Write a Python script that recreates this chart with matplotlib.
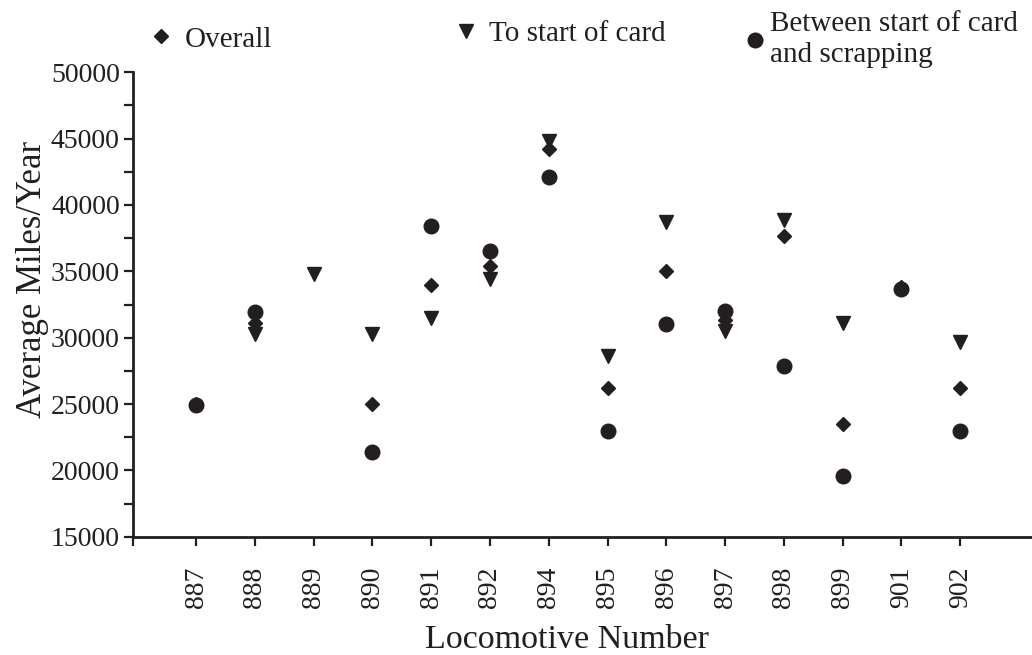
import numpy as np
import matplotlib.pyplot as plt

plt.rcParams['font.family'] = ['Liberation Serif', 'DejaVu Serif']

# locomotive numbers (categorical x axis)
locos = ['887', '888', '889', '890', '891', '892', '894', '895',
         '896', '897', '898', '899', '901', '902']
nan = np.nan
# average miles per year
overall = [25000, 31100, nan, 25000, 34000, 35400, 44200, 26200,
           35000, 31300, 37700, 23500, 33800, 26200]
to_card = [nan, 30300, 34800, 30300, 31500, 34400, 44800, 28600,
           38700, 30500, 38900, 31100, nan, 29700]
card_to_scrap = [24900, 31900, nan, 21400, 38400, 36500, 42100, 23000,
                 31000, 32000, 27900, 19600, 33700, 23000]

ink = '#231f20'
xpos = np.arange(len(locos))

fig = plt.figure(figsize=(10.32, 6.55), dpi=100)
ax = fig.add_axes([0.1289, 0.1806, 0.8711, 0.709])

h1, = ax.plot(xpos, overall, 'D', ms=7.2, color=ink, ls='none', label='Overall')
h2, = ax.plot(xpos, to_card, 'v', ms=10.5, color=ink, ls='none', label='To start of card')
h3, = ax.plot(xpos, card_to_scrap, 'o', ms=10.5, color=ink, ls='none',
              label='Between start of card\nand scrapping')

ax.set_ylim(15000, 50000)
ax.set_xlim(-1.072, 14.22)
ax.set_yticks(np.arange(15000, 50001, 5000))
ax.set_yticks(np.arange(17500, 50000, 5000), minor=True)
ax.set_xticks(xpos)
ax.set_xticklabels(locos, rotation=90)
ax.set_xticks([-1.072], minor=True)

for s in ['top', 'right']:
    ax.spines[s].set_visible(False)
for s in ['left', 'bottom']:
    ax.spines[s].set_linewidth(2.0)
    ax.spines[s].set_color(ink)

ax.tick_params(axis='both', which='both', direction='out', length=6.5,
               width=1.6, color=ink, labelcolor=ink, labelsize=20)
ax.tick_params(axis='x', which='both', pad=15)
ax.tick_params(axis='y', which='both', pad=3)

ax.set_xlabel('Locomotive Number', fontsize=24.5, color=ink)
ax.xaxis.set_label_coords(0.483, -0.188)
ax.set_ylabel('Average Miles/Year', fontsize=25, color=ink)
ax.yaxis.set_label_coords(-0.093, 0.553)

leg_kw = dict(frameon=False, fontsize=21, handlelength=0.6,
              borderpad=0, borderaxespad=0, loc='center left')
for h, x0, y0, pad in [(h1, 0.1475, 0.940, 0.5), (h2, 0.443, 0.948, 0.5),
                       (h3, 0.7235, 0.939, 0.2)]:
    lg = fig.legend(handles=[h], bbox_to_anchor=(x0, y0), handletextpad=pad, **leg_kw)
    for t in lg.get_texts():
        t.set_color(ink)
        t.set_linespacing(1.25)

fig.savefig('out.png', dpi=100)
